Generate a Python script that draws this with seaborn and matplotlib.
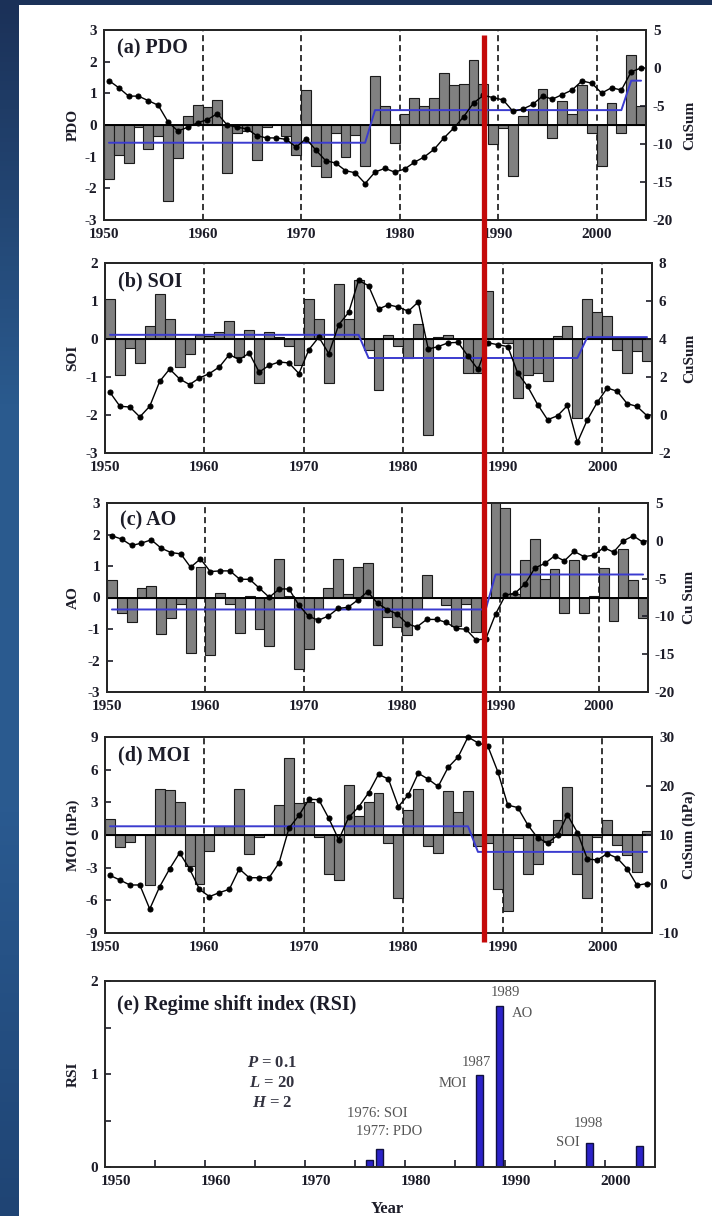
import numpy as np
import matplotlib
matplotlib.use("Agg")
import matplotlib.pyplot as plt
import seaborn as sns
from matplotlib.colors import LinearSegmentedColormap
from matplotlib.patches import Rectangle
from matplotlib.lines import Line2D

# ---- data (1950-2004) ----
years = np.arange(1950, 2005)

pdo = [-1.7, -0.95, -1.2, -0.05, -0.75, -0.35, -2.4, -1.05, 0.3, 0.63,
       0.58, 0.8, -1.5, -0.25, -0.2, -1.1, -0.05, 0.0, -0.35, -0.95,
       1.1, -1.3, -1.65, -0.25, -1.0, -0.3, -1.3, 1.55, 0.6, -0.58,
       0.35, 0.85, 0.6, 0.85, 1.65, 1.25, 1.3, 2.05, 1.3, -0.6,
       -0.1, -1.6, 0.3, 0.5, 1.15, -0.4, 0.75, 0.35, 1.25, -0.25,
       -1.3, 0.7, -0.25, 2.2, 0.6]
pdo_cusum = [-1.65, -2.6, -3.7, -3.7, -4.3, -4.9, -7.1, -8.3, -7.8, -7.2,
             -6.8, -6.0, -7.5, -7.8, -8.0, -8.9, -9.2, -9.2, -9.4, -10.4,
             -9.3, -10.8, -12.2, -12.5, -13.5, -13.8, -15.2, -13.7, -13.2, -13.7,
             -13.3, -12.4, -11.7, -10.7, -9.2, -7.9, -6.4, -4.6, -3.6, -3.9,
             -4.2, -5.7, -5.4, -4.8, -3.7, -4.1, -3.5, -2.9, -1.7, -2.0,
             -3.3, -2.6, -2.9, -0.5, 0.0]
pdo_regime_x = [1950.5, 1976.5, 1977.5, 2002.5, 2003.5, 2004.5]
pdo_regime_y = [-0.56, -0.56, 0.47, 0.47, 1.4, 1.4]

soi = [1.05, -0.96, -0.24, -0.63, 0.33, 1.19, 0.53, -0.74, -0.4, 0.11,
       0.09, 0.18, 0.48, -0.47, 0.23, -1.16, 0.18, 0.05, -0.19, -0.68,
       1.04, 0.53, -1.16, 1.46, 0.53, 1.56, -0.3, -1.35, 0.1, -0.19,
       -0.5, 0.4, -2.52, 0.05, 0.1, 0.0, -0.9, -0.9, 1.25, 0.0,
       -0.1, -1.55, -0.96, -0.9, -1.1, 0.09, 0.33, -2.08, 1.05, 0.7,
       0.6, -0.28, -0.9, -0.32, -0.59]
soi_cusum = [1.19, 0.46, 0.42, -0.1, 0.46, 1.77, 2.42, 1.9, 1.6, 1.95,
             2.18, 2.53, 3.18, 2.91, 3.26, 2.26, 2.61, 2.79, 2.74, 2.18,
             3.44, 4.1, 3.23, 4.75, 5.4, 7.09, 6.8, 5.58, 5.8, 5.68,
             5.46, 5.95, 3.47, 3.6, 3.8, 3.82, 3.1, 2.4, 3.8, 3.7,
             3.6, 2.2, 1.5, 0.55, -0.25, -0.04, 0.5, -1.44, -0.25, 0.67,
             1.42, 1.25, 0.6, 0.45, -0.04]
soi_regime_x = [1950.5, 1975.5, 1976.5, 1997.5, 1998.5, 2004.5]
soi_regime_y = [0.11, 0.11, -0.5, -0.5, 0.05, 0.05]

ao = [0.57, -0.49, -0.77, 0.31, 0.36, -1.15, -0.64, -0.22, -1.75, 0.98,
      -1.82, 0.13, -0.21, -1.13, 0.05, -1.0, -1.55, 1.22, 0.05, -2.26,
      -1.62, -0.35, 0.31, 1.22, 0.1, 0.98, 1.1, -1.5, -0.62, -0.93,
      -1.18, -0.35, 0.73, 0.0, -0.25, -0.9, -0.2, -1.1, 0.0, 3.1,
      2.85, 0.1, 1.2, 1.85, 0.6, 0.9, -0.5, 1.2, -0.5, 0.05,
      0.95, -0.75, 1.55, 0.55, -0.65]
ao_cusum = [0.66, 0.22, -0.62, -0.31, 0.13, -0.97, -1.55, -1.73, -3.5, -2.39,
            -4.07, -3.98, -3.98, -5.09, -5.09, -6.28, -7.48, -6.37, -6.37, -8.5,
            -10.0, -10.5, -9.96, -8.94, -8.8, -7.83, -6.73, -8.27, -9.1, -9.7,
            -10.97, -11.4, -10.4, -10.4, -10.8, -11.6, -11.7, -13.1, -13.0, -9.7,
            -7.2, -6.9, -5.7, -3.6, -3.0, -2.0, -2.65, -1.4, -2.1, -1.9,
            -0.9, -1.5, 0.0, 0.66, -0.2]
ao_regime_x = [1950.5, 1988.5, 1989.5, 2004.5]
ao_regime_y = [-0.38, -0.38, 0.73, 0.73]

moi = [1.47, -1.1, -0.6, 0.0, -4.62, 4.25, 4.1, 3.0, -2.87, -4.46,
       -1.5, 0.8, 0.8, 4.25, -1.7, -0.2, 0.1, 2.8, 7.06, 2.94,
       3.0, -0.2, -3.58, -4.16, 4.6, 1.77, 3.0, 3.85, -0.73, -5.8,
       2.3, 4.25, -1.0, -1.65, 4.07, 2.1, 4.07, -1.0, -0.7, -5.0,
       -7.0, -0.3, -3.6, -2.7, -0.6, 1.4, 4.4, -3.6, -5.8, -0.2,
       1.4, -0.9, -1.8, -3.4, 0.34]
moi_cusum = [1.76, 0.81, -0.2, -0.2, -5.1, -0.54, 3.1, 6.35, 3.1, -1.08,
             -2.57, -1.76, -1.08, 3.1, 1.28, 1.28, 1.28, 4.32, 11.4, 14.0,
             17.3, 17.2, 13.4, 9.05, 13.6, 15.7, 18.6, 22.4, 21.4, 15.8,
             18.2, 22.6, 21.4, 19.9, 23.8, 25.9, 30.0, 28.8, 28.1, 22.9,
             16.1, 15.6, 12.1, 9.4, 8.4, 9.9, 14.1, 10.5, 5.1, 4.9,
             6.2, 5.3, 3.1, -0.27, 0.1]
moi_regime_x = [1950.5, 1986.5, 1987.5, 2004.5]
moi_regime_y = [0.8, 0.8, -1.55, -1.55]

rsi_years = [1976, 1977, 1987, 1989, 1998, 2003]
rsi_values = [0.07, 0.19, 0.99, 1.73, 0.26, 0.23]

decades = [1950, 1960, 1970, 1980, 1990, 2000]

# ---- style ----
sns.set_theme(style="ticks")
plt.rcParams['font.family'] = ['Liberation Serif', 'DejaVu Serif']
plt.rcParams['axes.unicode_minus'] = False
plt.rcParams['mathtext.fontset'] = 'custom'
plt.rcParams['mathtext.it'] = 'Liberation Serif:italic:bold'
plt.rcParams['axes.linewidth'] = 1.4

W, H = 712, 1216
INK = '#1c1c28'
BAR_GRAY = '#808080'
BLUE = '#3b3bcf'

fig = plt.figure(figsize=(W / 100, H / 100), dpi=100)

# slide background: blue gradient with white sheet
bg = fig.add_axes([0, 0, 1, 1], zorder=-10)
cmap = LinearSegmentedColormap.from_list(
    'bg', ['#1b3158', '#2a5a8e', '#2a5a90', '#1f4474'])
bg.imshow(np.linspace(0, 1, 256).reshape(-1, 1), aspect='auto', cmap=cmap,
          extent=[0, 1, 0, 1], origin='upper')
bg.add_patch(Rectangle((19 / W, 0), 1, 1 - 5 / H, color='white', lw=0))
bg.set_xlim(0, 1)
bg.set_ylim(0, 1)
bg.axis('off')


def panel_axes(left, right, top, bottom):
    return fig.add_axes([left / W, 1 - bottom / H, (right - left) / W, (bottom - top) / H])


def style_ticks(axis_obj):
    axis_obj.tick_params(direction='in', length=4, width=1.2, colors=INK,
                         labelsize=11, pad=5)
    for lab in axis_obj.get_xticklabels() + axis_obj.get_yticklabels():
        lab.set_fontweight('bold')


def index_panel(box, vals, cusum, rx, ry, title, ylab, rlab,
                ylim, yticks, ylim2, yticks2):
    left, right, top, bottom = box
    ax = panel_axes(*box)
    for d in decades[1:]:
        ax.axvline(d, color='black', ls=(0, (4, 2.5)), lw=1.1, zorder=0.5)
    sns.barplot(x=years + 0.5, y=vals, native_scale=True, width=1.0,
                color=BAR_GRAY, saturation=1, edgecolor='#1a1a1a',
                linewidth=0.8, errorbar=None, ax=ax, zorder=1)
    ax.axhline(0, color='black', lw=1.4, zorder=3)
    sns.lineplot(x=rx, y=ry, color=BLUE, lw=1.4, estimator=None, sort=False,
                 ax=ax, zorder=4)
    ax.set_xlim(1950, 2005)
    ax.set_ylim(*ylim)
    ax.set_yticks(yticks)
    ax.set_yticklabels([str(t) for t in yticks])
    ax.set_xticks(decades)
    ax.set_xticklabels([str(d) for d in decades])
    style_ticks(ax)
    ax.tick_params(axis='x', length=0, pad=6)

    ax2 = ax.twinx()
    sns.lineplot(x=years + 0.5, y=cusum, color='black', lw=1.0, marker='o',
                 markersize=3.6, markeredgecolor='black', estimator=None,
                 sort=False, ax=ax2, clip_on=False, zorder=5)
    ax2.set_ylim(*ylim2)
    ax2.set_yticks(yticks2)
    ax2.set_yticklabels([str(t) for t in yticks2])
    style_ticks(ax2)
    for sp in ax2.spines.values():
        sp.set_linewidth(1.4)

    ax.set_xlabel('')
    ax.set_ylabel(ylab, fontsize=11, fontweight='bold', color=INK)
    ax.yaxis.set_label_coords((79.5 - left) / (right - left), 0.5)
    ax2.set_ylabel(rlab, fontsize=11, fontweight='bold', color=INK)
    ax2.yaxis.set_label_coords((683 - left) / (right - left), 0.5)
    ax.text(0.024, 0.905, title, transform=ax.transAxes, fontsize=14.5,
            fontweight='bold', color=INK, ha='left', va='center')
    return ax


index_panel((104, 646, 30, 220), pdo, pdo_cusum, pdo_regime_x, pdo_regime_y,
            '(a) PDO', 'PDO', 'CuSum', (-3, 3), list(range(-3, 4)),
            (-20, 5), [-20, -15, -10, -5, 0, 5])
index_panel((105, 652, 263, 453), soi, soi_cusum, soi_regime_x, soi_regime_y,
            '(b) SOI', 'SOI', 'CuSum', (-3, 2), list(range(-3, 3)),
            (-2, 8), [-2, 0, 2, 4, 6, 8])
index_panel((107, 648, 503, 692), ao, ao_cusum, ao_regime_x, ao_regime_y,
            '(c) AO', 'AO', 'Cu Sum', (-3, 3), list(range(-3, 4)),
            (-20, 5), [-20, -15, -10, -5, 0, 5])
index_panel((105, 652, 737, 933), moi, moi_cusum, moi_regime_x, moi_regime_y,
            '(d) MOI', 'MOI (hPa)', 'CuSum (hPa)', (-9, 9), [-9, -6, -3, 0, 3, 6, 9],
            (-10, 30), [-10, 0, 10, 20, 30])

# ---- (e) regime shift index ----
eleft, eright, etop, ebottom = 105, 655, 981, 1167
axe = panel_axes(eleft, eright, etop, ebottom)
sns.barplot(x=np.array(rsi_years) + 0.45, y=rsi_values, native_scale=True,
            width=0.72, color='#2b22c8', saturation=1, edgecolor='#101040',
            linewidth=1.0, errorbar=None, ax=axe)
axe.set_xlim(1950, 2005)
axe.set_ylim(0, 2)
axe.set_yticks([0, 0.5, 1, 1.5, 2])
axe.set_yticklabels(['0', '', '1', '', '2'])
axe.set_xticks(list(range(1955, 2005, 5)))
axe.set_xticklabels([''] * 10)
axe.set_xticks([d + 1.1 for d in decades], labels=[str(d) for d in decades], minor=True)
style_ticks(axe)
axe.tick_params(axis='x', which='major', length=5, width=1.2)
axe.tick_params(axis='x', which='minor', length=0, pad=6, labelsize=11, labelcolor=INK)
for lab in axe.get_xticklabels(minor=True):
    lab.set_fontweight('bold')
axe.set_ylabel('RSI', fontsize=11, fontweight='bold', color=INK)
axe.yaxis.set_label_coords((79.5 - eleft) / (eright - eleft), 0.5)
axe.set_xlabel('Year', fontsize=12, fontweight='bold', color=INK)
axe.xaxis.set_label_coords(0.513, -0.185)

axe.text(1951.2, 1.74, '(e) Regime shift index (RSI)', fontsize=14.5,
         fontweight='bold', color=INK, ha='left', va='center')
for txt, yy in [(r'$P$ = 0.1', 1.12), (r'$L$ = 20', 0.9), (r'$H$ = 2', 0.69)]:
    axe.text(1966.7, yy, txt, fontsize=12, fontweight='bold', color='#333340',
             ha='center', va='center')
notes = [('1976: SOI', 1977.2, 0.58), ('1977: PDO', 1978.4, 0.38),
         ('1987', 1987.1, 1.12), ('MOI', 1984.8, 0.9),
         ('1989', 1990.0, 1.88), ('AO', 1991.7, 1.65),
         ('1998', 1998.3, 0.47), ('SOI', 1996.3, 0.26)]
for txt, xx, yy in notes:
    axe.text(xx, yy, txt, fontsize=10.5, color='#555555', ha='center', va='center')

# red marker line across panels a-d
fig.add_artist(Line2D([484 / W, 484 / W], [1 - 35 / H, 1 - 942 / H],
                      transform=fig.transFigure, color='#c40a0a', lw=3.8,
                      solid_capstyle='butt', zorder=20))

fig.savefig('out.png', dpi=100)
